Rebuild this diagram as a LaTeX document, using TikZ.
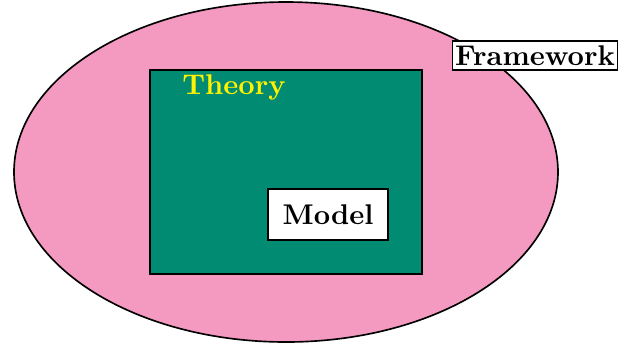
\documentclass[tikz,border=0pt]{standalone}
\usetikzlibrary{positioning}
\definecolor{frameworkpink}{HTML}{F49AC1}
\definecolor{theorygreen}{HTML}{008B72}
\tikzset{
    boldtext/.style={font=\fontsize{10.4pt}{12pt}\selectfont\bfseries},
    labelbox/.style={draw, fill=white, boldtext, line width=0.6pt},
}
\begin{document}
\begin{tikzpicture}[x=0.365pt, y=-0.365pt]
    \useasboundingbox (0, 0) rectangle (628, 345);

    % 框架
    \draw[fill=frameworkpink, line width=0.6pt] (286, 172) ellipse (272 and 170);
    \node[labelbox, inner sep=1pt, minimum width=59pt, minimum height=10.6pt] (framework) at (535, 55.5) {Framework};

    % 理论
    \draw[fill=theorygreen, line width=0.7pt] (150, 70) rectangle (422, 274);
    \node[boldtext, text=yellow] (theory) at (234, 87) {Theory};

    % 模型
    \node[labelbox, minimum width=43.8pt, minimum height=18.6pt] (model) at (328, 214.5) {Model};
\end{tikzpicture}
\end{document}
